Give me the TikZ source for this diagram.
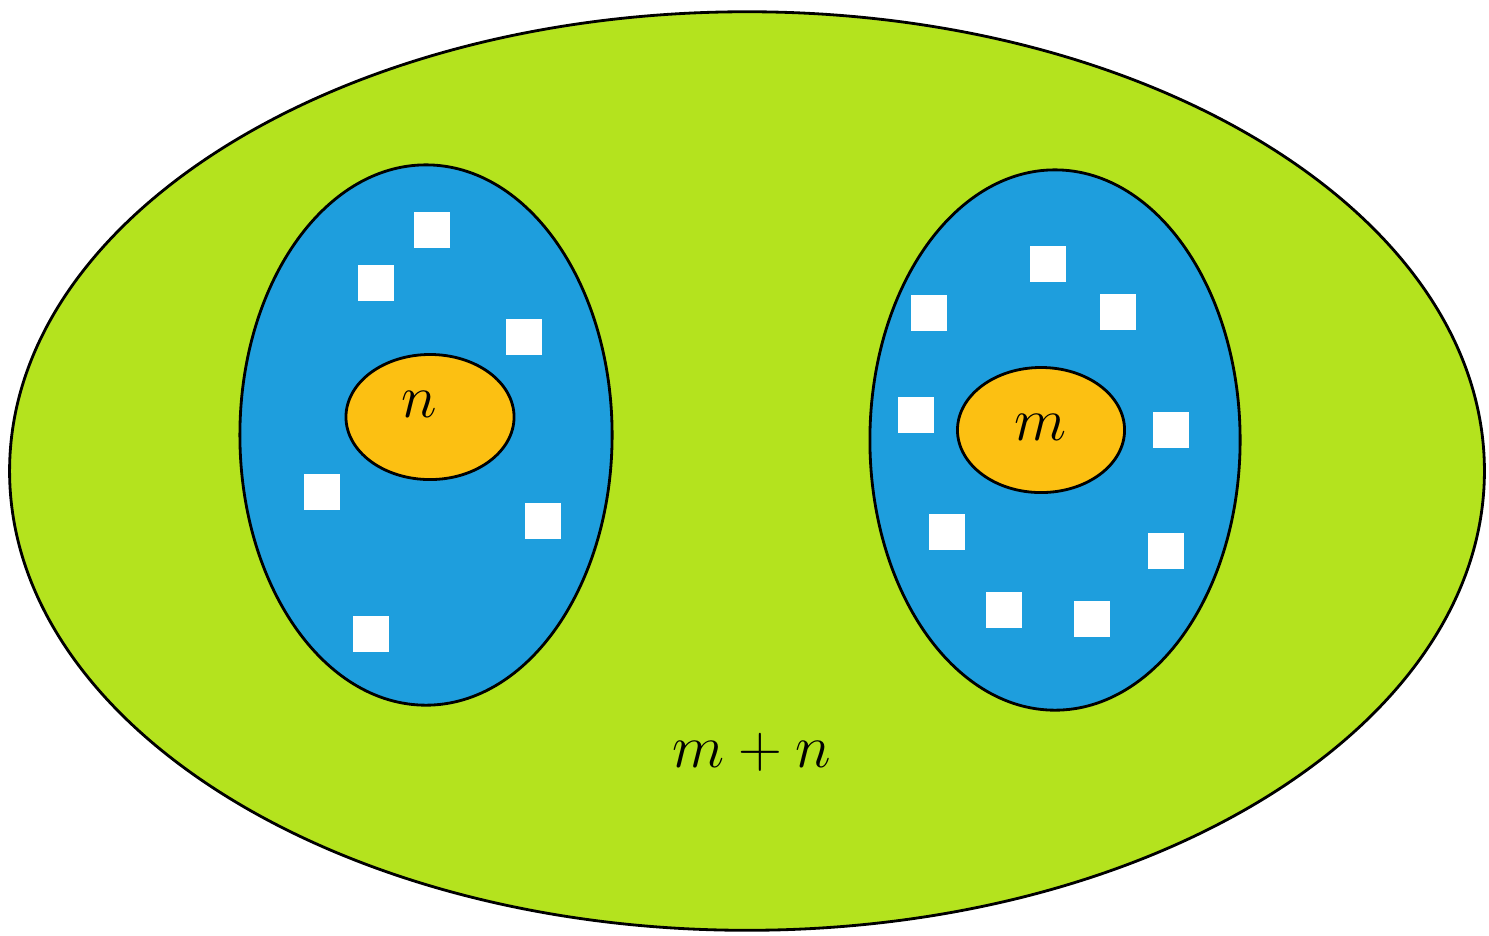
\documentclass[tikz,border=0pt]{standalone}
\usepackage{tikz}
\usetikzlibrary{shapes.geometric}
\usepackage{xcolor}
\definecolor{colgreen}{HTML}{B4E31E}
\definecolor{colblue}{HTML}{1E9EDD}
\definecolor{colorange}{HTML}{FCC012}
\begin{document}
\begin{tikzpicture}[
  x=0.01cm, y=-0.01cm,
  set/.style={draw,ellipse,line width=0.8pt,inner sep=0pt},
  elem/.style={fill=white,rectangle,minimum size=0.36cm,inner sep=0pt},
  lbl/.style={inner sep=0pt,font=\fontsize{18}{22}\selectfont},
]
  \useasboundingbox (0,0) rectangle (1489,935);
  % ---- conjunto total ----
  \node[set,fill=colgreen,minimum width=14.74cm,minimum height=9.18cm] (total) at (747,471) {};
  \node[lbl] (tlab) at (752,752) {$m+n$};
  % ---- conjunto izquierdo ----
  \node[set,fill=colblue,minimum width=3.72cm,minimum height=5.4cm] (izq) at (426,435) {};
  \node[set,fill=colorange,minimum width=1.68cm,minimum height=1.25cm] (nucn) at (430,417) {};
  \node[lbl] (nlab) at (419,404) {$n$};
  \foreach \x/\y [count=\i] in {432/230, 376/283, 524/337, 322/492, 543/521, 371/634}
    \node[elem] (a\i) at (\x,\y) {};
  % ---- conjunto derecho ----
  \node[set,fill=colblue,minimum width=3.7cm,minimum height=5.4cm] (der) at (1055,440) {};
  \node[set,fill=colorange,minimum width=1.67cm,minimum height=1.25cm] (nucm) at (1041,430) {};
  \node[lbl] (mlab) at (1040,427) {$m$};
  \foreach \x/\y [count=\i] in {1048/264, 929/313, 1118/312, 916/415, 1171/430,
                                947/532, 1166/551, 1004/610, 1092/619}
    \node[elem] (b\i) at (\x,\y) {};
\end{tikzpicture}
\end{document}
